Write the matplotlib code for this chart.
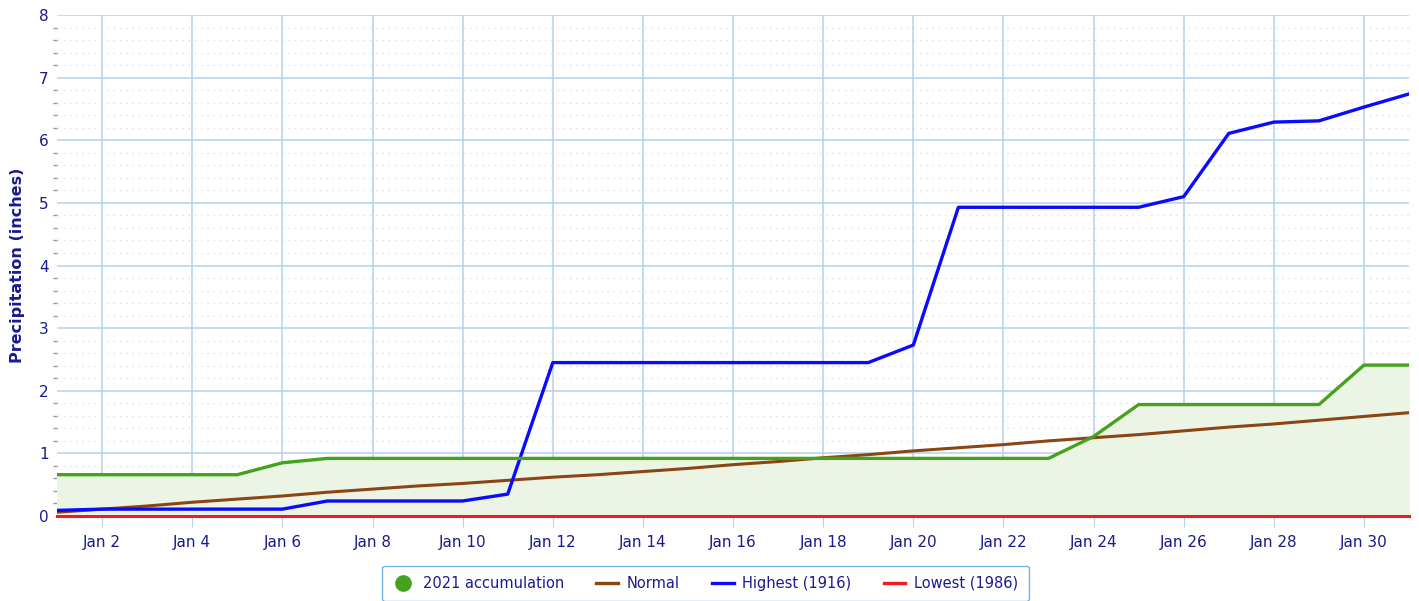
import matplotlib
matplotlib.use("Agg")
import matplotlib.pyplot as plt
from matplotlib.lines import Line2D
import numpy as np

days = list(range(1, 32))
accum_2021 = [0.66, 0.66, 0.66, 0.66, 0.66, 0.85, 0.92, 0.92, 0.92, 0.92,
              0.92, 0.92, 0.92, 0.92, 0.92, 0.92, 0.92, 0.92, 0.92, 0.92,
              0.92, 0.92, 0.92, 1.27, 1.78, 1.78, 1.78, 1.78, 1.78, 2.41, 2.41]
normal = [0.06, 0.11, 0.16, 0.22, 0.27, 0.32, 0.38, 0.43, 0.48, 0.52,
          0.57, 0.62, 0.66, 0.71, 0.76, 0.82, 0.87, 0.93, 0.98, 1.04,
          1.09, 1.14, 1.20, 1.25, 1.30, 1.36, 1.42, 1.47, 1.53, 1.59, 1.65]
highest = [0.09, 0.11, 0.11, 0.11, 0.11, 0.11, 0.24, 0.24, 0.24, 0.24,
           0.35, 2.45, 2.45, 2.45, 2.45, 2.45, 2.45, 2.45, 2.45, 2.73,
           4.93, 4.93, 4.93, 4.93, 4.93, 5.10, 6.11, 6.29, 6.31, 6.53, 6.74]
lowest = [0.0] * 31
xtick_days = list(range(2, 31, 2))
xtick_labels = ["Jan %d" % d for d in xtick_days]

navy = "#1a1a8c"
grid_c = "#b5d2ea"

fig = plt.figure(figsize=(14.19, 6.01), dpi=100)
ax = fig.add_axes([0.0402, 0.1414, 0.9528, 0.8336])

ax.fill_between(days, accum_2021, 0, color="#ecf4e6", zorder=1)
ax.plot(days, lowest, color="#ee1c1c", lw=2.2, zorder=3, clip_on=False)
ax.plot(days, normal, color="#8b4513", lw=2.2, zorder=4)
ax.plot(days, highest, color="#0a0aff", lw=2.4, zorder=5)
ax.plot(days, accum_2021, color="#45a21e", lw=2.4, zorder=6)

ax.set_xlim(1, 31)
ax.set_ylim(0, 8)
ax.set_xticks(xtick_days)
ax.set_xticklabels(xtick_labels)
ax.set_yticks(range(0, 9))
ax.set_yticks(np.arange(0, 8.01, 0.2), minor=True)

ax.grid(True, which="major", color=grid_c, lw=1.1, zorder=0)
ax.grid(True, which="minor", axis="y", color="#d8d8d8", lw=0.9, ls=(0, (1, 4)), zorder=0)
ax.set_axisbelow(True)

for s in ["top", "right", "left"]:
    ax.spines[s].set_visible(False)
ax.spines["bottom"].set_color("#7fb0dc")
ax.spines["bottom"].set_linewidth(1.2)
ax.spines["bottom"].set_zorder(0.5)

ax.tick_params(axis="x", which="major", colors=grid_c, length=8, labelcolor=navy, labelsize=11, pad=6)
ax.tick_params(axis="y", which="major", colors=grid_c, length=0, labelcolor=navy, labelsize=11, pad=6)
ax.tick_params(axis="y", which="minor", colors="#999999", length=3, width=1)

ax.set_ylabel("Precipitation (inches)", color=navy, fontsize=11.5, fontweight="bold", labelpad=10)

handles = [
    Line2D([], [], marker="o", ls="none", color="#45a21e", markersize=11),
    Line2D([], [], color="#8b4513", lw=2.4),
    Line2D([], [], color="#0a0aff", lw=2.4),
    Line2D([], [], color="#ee1c1c", lw=2.4),
]
labels = ["2021 accumulation", "Normal", "Highest (1916)", "Lowest (1986)"]
leg = fig.legend(handles, labels, loc="lower center", bbox_to_anchor=(0.497, -0.012), ncol=4,
                 frameon=True, fancybox=True, fontsize=10.5, handlelength=1.5,
                 columnspacing=2.2, handletextpad=0.6, borderpad=0.7)
leg.get_frame().set_edgecolor("#4aa3df")
leg.get_frame().set_linewidth(1.0)
for t in leg.get_texts():
    t.set_color(navy)

fig.savefig("out.png", dpi=100)
